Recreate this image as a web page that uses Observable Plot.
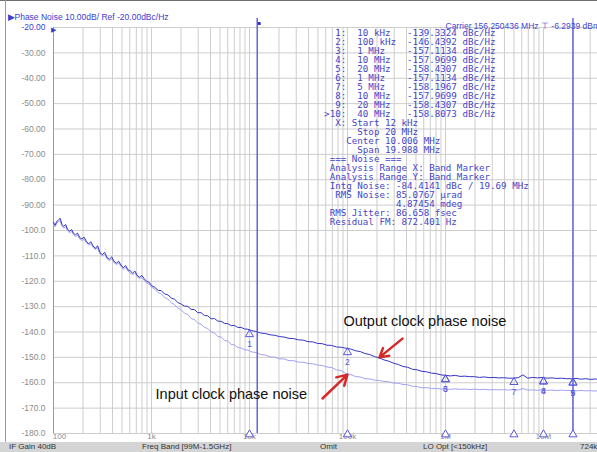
<!DOCTYPE html>
<html><head><meta charset="utf-8">
<script src="https://cdn.jsdelivr.net/npm/d3@7"></script>
<script src="https://cdn.jsdelivr.net/npm/@observablehq/plot@0.6"></script>
<style>
body{margin:0;background:#fff;}
#wrap{position:relative;width:597px;height:452px;overflow:hidden;background:#fff;}
#wrap svg{position:absolute;left:0;top:0;}
#frameL{position:absolute;left:5px;top:0;width:1px;height:442px;background:#9a9a9a;}
#frameT{position:absolute;left:0;top:0;width:597px;height:1px;background:#6e6e6e;}
#status{position:absolute;left:0;top:442px;width:597px;height:10px;background:#d4d4d4;font:8px "Liberation Sans",Arial,sans-serif;color:#333;}
#status span{position:absolute;top:0;line-height:10px;white-space:nowrap;}
</style></head>
<body>
<div id="wrap"><div id="frameT"></div><div id="frameL"></div><div id="status"></div></div>
<script>
// ---------------- data ----------------
const freqHz = [100,104,108,112,117,122,127,133,139,146,153,160,168,176,185,195,205,216,228,240,253,267,282,298,315,333,352,372,393,415,438,462,488,515,544,575,607,641,677,715,755,797,842,889,939,1000,1080,1170,1260,1360,1470,1590,1720,1860,2010,2170,2350,2540,2750,2970,3210,3470,3750,4060,4390,4750,5140,5560,6010,6500,7030,7600,8220,8890,9610,10400,11600,13000,14500,16200,18100,20200,22600,25300,28300,31600,35300,39500,44200,49400,55200,61700,69000,77100,86200,96400,108000,121000,135000,151000,169000,189000,211000,236000,264000,295000,330000,369000,412000,461000,515000,576000,644000,720000,805000,900000,1000000,1120000,1260000,1410000,1580000,1770000,1980000,2220000,2490000,2790000,3120000,3500000,3920000,4390000,4920000,5510000,6170000,6910000,7740000,8670000,9710000,10900000,12200000,13700000,15300000,17100000,19200000,21500000,24100000,27000000,30200000,33800000,35600000];

const outputDb = [-96.8,-97.9,-96.4,-95.9,-95.2,-97.6,-98.4,-97.6,-99.5,-100.3,
-99.6,-101.1,-101.7,-101.0,-102.8,-103.3,-102.6,-104.2,-105.3,-104.4,
-106.0,-107.1,-106.0,-108.7,-109.5,-108.6,-110.7,-111.3,-110.4,-112.2,
-112.9,-112.1,-113.6,-114.7,-113.8,-115.5,-115.9,-116.8,-116.0,-117.7,
-118.4,-117.7,-119.0,-120.0,-120.3,-121.7,-122.4,-123.6,-123.7,-125.0,
-125.4,-126.6,-127.1,-128.4,-129.0,-129.8,-129.9,-131.1,-131.2,-132.4,
-132.4,-133.5,-133.6,-134.8,-134.7,-135.7,-135.8,-136.6,-136.7,-137.5,
-137.4,-138.2,-138.2,-138.8,-138.9,-139.4,-139.8,-140.4,-140.6,-141.1,
-141.3,-141.8,-142.0,-142.5,-142.6,-143.1,-143.2,-143.8,-143.9,-144.5,
-144.6,-145.2,-145.3,-145.9,-146.0,-146.4,-146.7,-147.4,-147.7,-148.5,
-148.9,-149.7,-150.2,-151.0,-151.5,-152.3,-152.8,-153.6,-153.9,-154.7,
-154.9,-155.5,-155.7,-156.2,-156.4,-156.9,
-157.1,-157.3,-157.1,-157.5,-157.4,-157.6,-157.6,-157.9,-157.7,-158.0,-157.9,-158.1,-158.0,-158.2,-158.2,-158.0,-156.9,-158.2,-157.9,-158.1,-157.9,-158.2,-158.1,-158.3,-158.2,-158.4,-158.4,-158.3,-158.6,-158.4,-158.7,-158.5,-158.7];

const inputDb = [-97.4,-98.5,-97.1,-96.5,-96.2,-98.3,-99.1,-98.5,-100.2,-100.9,
-100.3,-101.7,-102.4,-101.8,-103.4,-103.9,-103.4,-104.8,-105.7,-105.2,
-106.6,-107.5,-106.8,-109.3,-110.0,-109.4,-111.1,-111.9,-111.2,-112.7,
-113.4,-112.8,-114.1,-115.3,-114.6,-116.0,-116.7,-117.3,-116.8,-118.2,
-119.0,-118.5,-119.6,-120.7,-121.1,-122.3,-123.1,-124.5,-125.0,-126.4,
-127.0,-128.5,-129.2,-130.6,-131.2,-132.6,-133.1,-134.7,-135.1,-136.5,
-137.0,-138.2,-138.6,-140.0,-140.4,-141.7,-142.0,-143.3,-143.6,-144.9,
-145.1,-146.1,-146.3,-147.0,-147.1,-147.8,-148.1,-148.9,-149.1,-149.8,
-149.9,-150.6,-150.6,-151.3,-151.3,-151.9,-151.9,-152.4,-152.5,-153.0,
-153.2,-153.8,-154.0,-154.9,-155.2,-156.4,-156.7,-157.6,-157.7,-158.4,
-158.5,-159.0,-159.1,-159.5,-159.6,-160.1,-160.2,-160.7,-160.8,-161.4,
-161.5,-162.0,-161.9,-162.3,-162.2,-162.5,
-162.4,-162.6,-162.4,-162.6,-162.5,-162.7,-162.5,-162.7,-162.6,-162.8,-162.7,-162.8,-162.7,-162.9,-162.7,-162.9,-162.3,-162.9,-162.8,-163.0,-162.8,-163.0,-162.9,-163.1,-162.9,-163.1,-163.0,-163.2,-163.0,-163.2,-163.1,-163.3,-163.2];

const yTicks = [-20,-30,-40,-50,-60,-70,-80,-90,-100,-110,-120,-130,-140,-150,-160,-170,-180];
const yTickLabels = ["-20.00","-30.00","-40.00","-50.00","-60.00","-70.00","-80.00","-90.00","-100.0","-110.0","-120.0","-130.0","-140.0","-150.0","-160.0","-170.0","-180.0"];
const xTicks = [100,1000,10000,100000,1000000,10000000];
const xTickLabels = ["100","1k","10k","100k","1M","10M"];
const gridDecades = [100,1000,10000,100000,1000000,10000000];
const gridMults = [1,2,3,4,5,6,7,8,9];

const bandFreqs = [12000,20000000];
const markerIds = ["1","2","3","4","5","6","7","8","9","10"];
const markerFreq = [1e4,1e5,1e6,1e7,2e7,1e6,5e6,1e7,2e7,4e7];
const markerFreqText = ["10 kHz","100 kHz","1 MHz","10 MHz","20 MHz","1 MHz","5 MHz","10 MHz","20 MHz","40 MHz"];
const markerDb = [-139.3324,-146.4392,-157.1134,-157.9699,-158.4307,-157.1134,-158.1967,-157.9699,-158.4307,-158.8073];
const activeMarker = "10";
const bottomMarkFreqs = [1e4,1e5,1e6,5e6,1e7,2e7];

const analysisLines = ["  X: Start 12 kHz","      Stop 20 MHz","    Center 10.006 MHz","      Span 19.988 MHz"," === Noise ==="," Analysis Range X: Band Marker"," Analysis Range Y: Band Marker"," Intg Noise: -84.4141 dBc / 19.69 MHz","  RMS Noise: 85.0767 \u00b5rad","             4.87454 mdeg"," RMS Jitter: 86.658 fsec"," Residual FM: 872.401 Hz"];

const titleText = "\u25b6Phase Noise 10.00dB/ Ref -20.00dBc/Hz";
const carrierText = "Carrier 156.250436 MHz \u22a4 -6.2939 dBm";
const statusTexts = ["IF Gain 40dB","Freq Band [99M-1.5GHz]","Omit","LO Opt [<150kHz]","724k"];

const annoText = ["Output clock phase noise","Input clock phase noise"];
const annoFreq = [91000,1100];
const annoDb = [-135.9,-164.6];
const arrowFromFreq = [364000,55600];
const arrowFromDb = [-142.6,-166.2];
const arrowToFreq = [212000,100000];
const arrowToDb = [-150.0,-156.8];

// ---------------- build ----------------
const outputData = freqHz.map((f,i)=>({f, v: outputDb[i]})).filter(d=>d.v!==undefined);
const inputData = freqHz.map((f,i)=>({f, v: inputDb[i]})).filter(d=>d.v!==undefined);
const xMax = 35600000;
const vGrid = gridDecades.flatMap(d=>gridMults.map(m=>d*m)).filter(f=>f>100 && f<=xMax);
const markers = markerIds.map((id,i)=>({id, f: markerFreq[i], v: markerDb[i]})).filter(d=>d.f<=xMax);
const nb = s => s.replace(/ /g,"\u00a0");
const tableLines = markerIds.map((id,i)=>
  ((id===activeMarker?">":"")+id+":").padStart(4) + "  " + markerFreqText[i].padEnd(9) + markerDb[i].toFixed(4) + " dBc/Hz"
).concat(analysisLines).map(nb).join("\n");
const annos = annoText.map((t,i)=>({t, f: annoFreq[i], v: annoDb[i]}));
const arrows = arrowFromFreq.map((f,i)=>({x1:f, y1:arrowFromDb[i], x2:arrowToFreq[i], y2:arrowToDb[i]}));
const yLab = yTicks.map((v,i)=>({v, t: yTickLabels[i]}));
const xLab = xTicks.map((f,i)=>({f, t: xTickLabels[i]}));

const blue = "#3c3cd0";
const mk = "#5858da";
const grid = "#cdcdcd";
const sans = "Liberation Sans, Arial, sans-serif";

const plot = Plot.plot({
  width: 597, height: 442,
  marginTop: 27, marginLeft: 53, marginBottom: 9, marginRight: 0,
  x: {type: "log", domain: [100, xMax], axis: null},
  y: {domain: [-180, -20], axis: null},
  style: {fontFamily: sans, fontSize: "8.5px", background: "transparent", overflow: "visible"},
  marks: [
    Plot.ruleX(vGrid, {stroke: grid, strokeWidth: 1}),
    Plot.ruleY(yTicks, {stroke: grid, strokeWidth: 1}),
    Plot.ruleX([100], {stroke: "#9a9a9a", strokeWidth: 1}),
    Plot.text(yLab.slice(0,1), {y: "v", text: "t", frameAnchor: "left", textAnchor: "end", dx: -8, fill: blue, fontSize: 8.5}),
    Plot.text(yLab.slice(1), {y: "v", text: "t", frameAnchor: "left", textAnchor: "end", dx: -8, fill: "#8c8c8c", fontSize: 8.5}),
    Plot.text(["\u25b6"], {frameAnchor: "top-left", dx: -3, dy: 0, fill: blue, fontSize: 7}),
    Plot.text(xLab.slice(0,1), {x: "f", text: "t", frameAnchor: "bottom", dy: 5, dx: 6, fill: "#8c8c8c", fontSize: 8}),
    Plot.text(xLab.slice(1), {x: "f", text: "t", frameAnchor: "bottom", dy: 5, fill: "#8c8c8c", fontSize: 8}),
    Plot.line(inputData, {x: "f", y: "v", stroke: "#a2a2f0", strokeWidth: 1}),
    Plot.line(outputData, {x: "f", y: "v", stroke: "#3434c4", strokeWidth: 1}),
    Plot.ruleX(bandFreqs, {y1: -16.5, y2: -180, stroke: "#6464e2", strokeWidth: 1.5}),
    Plot.dot([bandFreqs[0]], {x: d=>d, y: -20, dy: -4, dx: 2, symbol: "square", r: 1.6, fill: "#2a2ac0"}),
    Plot.dot(markers, {x: "f", y: "v", dy: 4, symbol: "triangle", r: 3, stroke: mk, strokeWidth: 1, fill: "none"}),
    Plot.text(markers, {x: "f", y: "v", text: "id", dy: 14, fill: mk, fontSize: 8.5}),
    Plot.dot(bottomMarkFreqs, {x: d=>d, y: -180, dy: 1, symbol: "triangle", r: 3, stroke: mk, strokeWidth: 1, fill: "white"}),
    Plot.arrow(arrows, {x1: "x1", y1: "y1", x2: "x2", y2: "y2", stroke: "#d42a2a", strokeWidth: 2.5, headLength: 8}),
    Plot.text(annos, {x: "f", y: "v", text: "t", textAnchor: "start", fill: "#111", fontSize: 14.5, fontFamily: sans}),
    Plot.text([tableLines], {frameAnchor: "top-left", dx: 270.6, dy: 2.6, lineAnchor: "top", lineHeight: 0.978, textAnchor: "start", fill: "#4646c8", fontSize: 9.2, fontFamily: "DejaVu Sans Mono, monospace"}),
    Plot.text([titleText], {frameAnchor: "top-left", dx: -46, dy: -14, textAnchor: "start", fill: blue, fontSize: 8.5}),
    Plot.text([carrierText], {frameAnchor: "top-left", dx: 392, dy: -5, textAnchor: "start", fill: "#4646d0", fontSize: 8.5})
  ]
});
const wrap = document.getElementById("wrap");
wrap.insertBefore(plot, wrap.firstChild);

const statusX = [9, 142, 320, 423, 580];
const st = document.getElementById("status");
statusTexts.forEach((t,i)=>{ const s=document.createElement("span"); s.textContent=t; s.style.left=statusX[i]+"px"; st.appendChild(s); });
</script>
</body></html>
